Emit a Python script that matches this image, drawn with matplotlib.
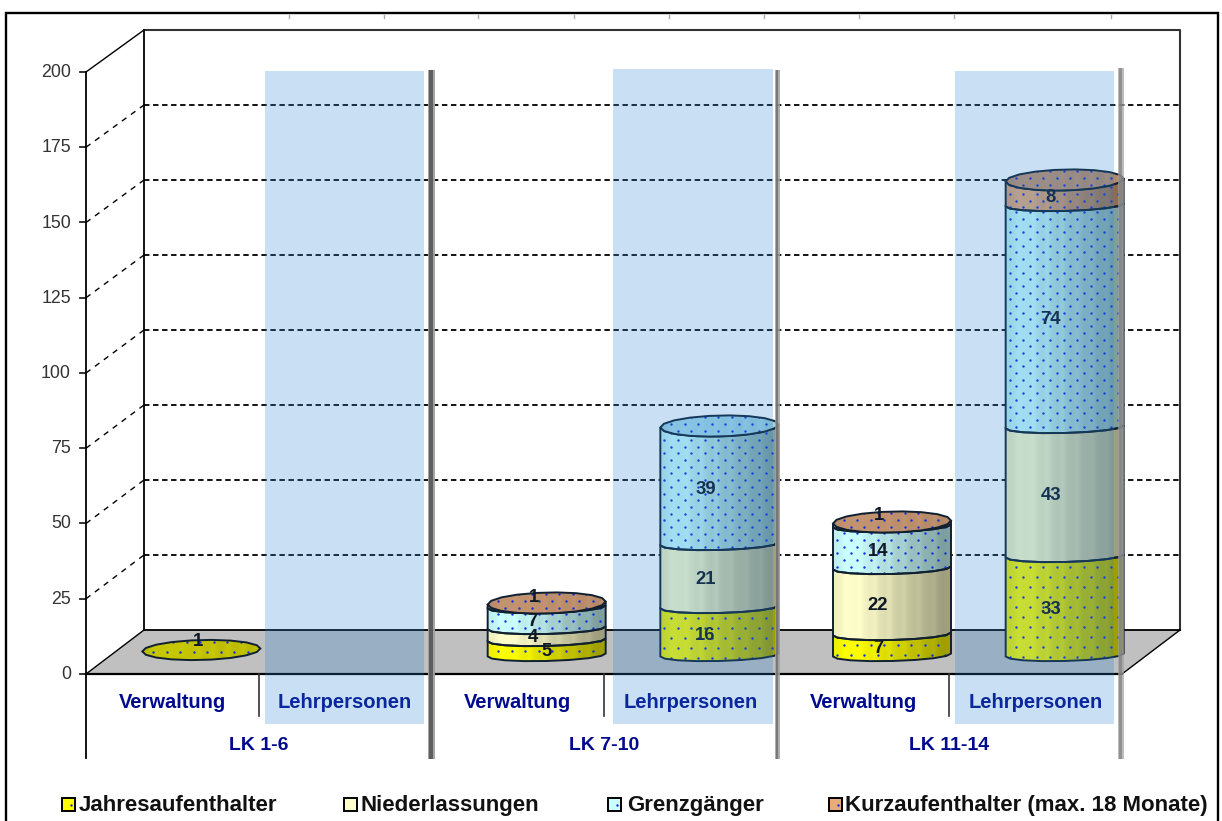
import numpy as np
import matplotlib
matplotlib.use("Agg")
import matplotlib.pyplot as plt
from matplotlib.patches import Polygon, Rectangle

plt.rcParams["font.family"] = ["Liberation Sans", "DejaVu Sans"]

# chart values, bottom to top of each stack
groups = ["LK 1-6", "LK 7-10", "LK 11-14"]
categories = ["Verwaltung", "Lehrpersonen"] * 3
series = ["Jahresaufenthalter", "Niederlassungen", "Grenzgänger", "Kurzaufenthalter (max. 18 Monate)"]
jahres = [1, 0, 5, 16, 7, 33]
nieder = [0, 0, 4, 21, 22, 43]
grenz = [0, 0, 7, 39, 14, 74]
kurz = [0, 0, 1, 0, 1, 8]
y_ticks = [0, 25, 50, 75, 100, 125, 150, 175, 200]

colors = ["#FFFF00", "#FFFFCC", "#CCFFFF", "#E8AC7C"]
top_colors = ["#C8C800", "#E8E8B8", "#A8DCEC", "#C49470"]
dot_rows = [10, None, 6.7, 6.7]

# pixel frame of the 3D box
X0, X1 = 86, 1122
Y0, Y200 = 674, 72
DX, DY = 58, -44
BAND = "#2880D0"
NAVY = "#000A8C"

fig = plt.figure(figsize=(12.22, 8.21), dpi=100)
ax = fig.add_axes([0, 0, 1, 1])
ax.set_xlim(0, 1222)
ax.set_ylim(821, 0)
ax.axis("off")


def val_y(v):
    return Y0 - v * (Y0 - Y200) / 200


cat_w = (X1 - X0) / 6
bar_y0 = 655
bar_a = 59
bar_scale = 3.0


def arc(cx, cy, b, start, stop, n=9):
    t = np.linspace(start, stop, n)
    x = bar_a * np.cos(t)
    # the cylinders lean a little, right side higher than left
    return np.column_stack([cx + x, cy + b * np.sin(t) - 0.025 * x])


def shade(poly, base, zorder, rows, low=0.6):
    patch = Polygon(poly, closed=True, fc="none", ec="none", zorder=zorder)
    ax.add_patch(patch)
    xs = poly[:, 0]
    ys = poly[:, 1]
    ramp = np.interp(np.linspace(0, 1, 24), [0, 0.15, 1], [0.94, 1.0, low])
    # faint facet streaks of the original's low-poly cylinder
    ramp[2::3] = np.minimum(ramp[2::3] * 1.05, 1)
    rgb = np.array(matplotlib.colors.to_rgb(base))
    img = (rgb[None, :] * ramp[:, None])[None, :, :]
    im = ax.imshow(img, extent=[xs.min(), xs.max(), ys.max(), ys.min()],
                   aspect="auto", zorder=zorder, interpolation="bilinear")
    im.set_clip_path(patch)
    if rows:
        gx, gy = np.meshgrid(np.arange(xs.min() + 4, xs.max(), 13.5),
                             np.arange(ys.min() + 2, ys.max(), rows))
        gx = gx.copy()
        gx[1::2] += 6.7
        sc = ax.scatter(gx.ravel(), gy.ravel(), s=3, c="#1030E0", lw=0, zorder=zorder + 0.1)
        sc.set_clip_path(patch)


# walls and grid
ax.add_patch(Rectangle((6, 13), 1212, 830, fc="white", ec="black", lw=1.7, zorder=1))
for x in [289, 384, 478, 574, 669, 764, 859, 954, 1111]:
    ax.plot([x, x], [15, 18], color="#AAAAAA", lw=1, zorder=1.5)

floor = Polygon([(X0, Y0), (X0 + DX, Y0 + DY), (X1 + DX, Y0 + DY), (X1, Y0)], fc="#C0C0C0", ec="none", zorder=2)
ax.add_patch(floor)
for v in y_ticks:
    y = val_y(v)
    back_y = Y0 + DY - v * 3
    ax.plot([X0 - 6, X0], [y, y], color="#222222", lw=1.3, zorder=3)
    ax.text(X0 - 15, y + 0.5, str(v), ha="right", va="center", fontsize=12.8, color="#333333", zorder=3)
    solid = v in (0, 200)
    ax.plot([X0, X0 + DX], [y, back_y], color="black", lw=1, zorder=3,
            ls="-" if solid else (0, (4, 4)))
    if 0 < v < 200:
        ax.plot([X0 + DX, X1 + DX], [back_y, back_y], color="black", lw=1.3, zorder=3, ls=(0, (3, 2)))
# box outlines
ax.plot([X0 + DX, X1 + DX, X1 + DX], [30, 30, Y0 + DY], color="#333333", lw=1.5, zorder=3)
ax.plot([X0 + DX, X0 + DX], [30, Y0 + DY], color="black", lw=1.3, zorder=3)
ax.plot([X0 + DX, X1 + DX], [Y0 + DY, Y0 + DY], color="black", lw=1.3, zorder=3)
ax.plot([X0, X1], [Y0, Y0], color="black", lw=1.6, zorder=3)
ax.plot([X1, X1 + DX], [Y0, Y0 + DY], color="black", lw=1, zorder=3)
ax.plot([X0, X0], [Y200, 758], color="black", lw=1.3, zorder=3)

# stacked cylinders
stacks = [jahres, nieder, grenz, kurz]
for i in range(6):
    cx = X0 + cat_w * (i + 0.5) + DX / 2
    total = sum(vals[i] for vals in stacks)
    if total == 0:
        continue
    base = 0
    top_idx = 0
    zb = 4 + i * 0.2
    for s, vals in enumerate(stacks):
        v = vals[i]
        if v == 0:
            continue
        y_bot = bar_y0 - base * bar_scale
        y_top = bar_y0 - (base + v) * bar_scale
        if total > 1:
            is_top = base + v == total
            b_top = 10.5 if is_top else 6
            body = np.vstack([arc(cx, y_top - (1 if is_top else 0), b_top, np.pi, 0), arc(cx, y_bot, 6, 0, np.pi)])
            shade(body, colors[s], zb, dot_rows[s])
            ax.add_patch(Polygon(body, closed=True, fc="none", ec="#102030", lw=1.4, zorder=zb + 0.15))
        if v == 1:  # a value of 1 is almost only its lid
            lab_x = cx - 3 if total == 1 else cx - 13
            lab_y = y_top - (10 if total == 1 else 7)
        else:
            lab_x = cx if v == 5 else cx - 14
            lab_y = (y_top + y_bot) / 2 + 4
        ax.text(lab_x, lab_y, str(v), ha="center", va="center", fontsize=13.3, fontweight="bold",
                color="#101828", zorder=5.5)
        base += v
        top_idx = s
    lid_y = bar_y0 - base * bar_scale - (2 if total == 1 else 1)
    top = arc(cx, lid_y, 10 if total == 1 else 10.5, 0, 2 * np.pi, 19)
    shade(top, top_colors[top_idx], zb + 0.2, dot_rows[top_idx], low=0.92)
    ax.add_patch(Polygon(top, closed=True, fc="none", ec="#102030", lw=1.4, zorder=zb + 0.3))

# axis labels
for i, name in enumerate(categories):
    cx = X0 + cat_w * (i + 0.5)
    ax.text(cx, 703, name, ha="center", va="center", fontsize=14.5, fontweight="bold", color=NAVY, zorder=3.5)
for i in (0, 2, 4):
    x = X0 + cat_w * (i + 1)
    ax.plot([x, x], [Y0, 716], color="#333333", lw=1.2, zorder=3)
for i, g in enumerate(groups):
    cx = X0 + cat_w * (i * 2 + 1)
    ax.text(cx, 746, g, ha="center", va="center", fontsize=14, fontweight="bold", color=NAVY, zorder=3.5)

# translucent bands over the Lehrpersonen columns
band_x = [(265, 424, 71), (613, 773, 69), (955, 1114, 71)]
for x0, x1, ytop in band_x:
    ax.add_patch(Rectangle((x0, ytop), x1 - x0, 724 - ytop, fc=BAND, ec="none", alpha=0.25, zorder=6))

# grey group separators, darker in the middle
for x, w, ytop, a, core in [(431, 7, 70, 0.95, "#5A5A5A"), (777, 5, 70, 0.85, "#707070"),
                            (1120.5, 6, 68, 0.7, "#808080")]:
    ax.add_patch(Rectangle((x - w / 2, ytop), w, 759 - ytop, fc="#A0A0A0", ec="none", alpha=a, zorder=7))
    ax.add_patch(Rectangle((x - w / 4, ytop), w / 2, 759 - ytop, fc=core, ec="none", alpha=a, zorder=7.1))

# legend
leg_marker_x = [62, 344, 608, 829]
leg_text_x = [79, 361, 627, 845]
for name, c, mx, tx, r in zip(series, colors, leg_marker_x, leg_text_x, dot_rows):
    ax.add_patch(Rectangle((mx, 798), 13, 13, fc=c, ec="black", lw=1.4, zorder=8))
    if r:
        ax.scatter([mx + 9], [805], s=3, c="#1030E0", lw=0, zorder=9)
    ax.text(tx, 811, name, ha="left", va="baseline", fontsize=16, fontweight="bold", color="#111111", zorder=8)

fig.savefig("out.png", dpi=100)
